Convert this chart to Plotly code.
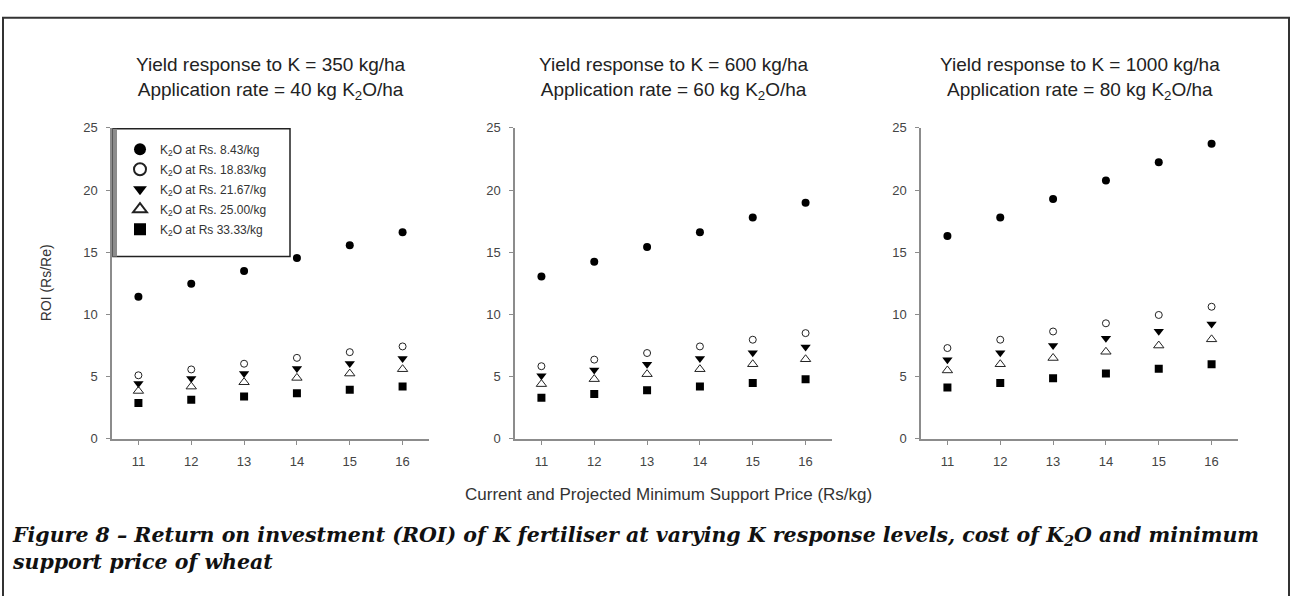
import plotly.graph_objects as go

W, H = 1292, 596

# Minimum support price of wheat (Rs/kg)
price = [11, 12, 13, 14, 15, 16]
price_ticks = [11, 12, 13, 14, 15, 16]
roi_ticks = [0, 5, 10, 15, 20, 25]

# K2O cost levels (legend labels)
cost_labels = [
    "K<sub>2</sub>O at Rs. 8.43/kg",
    "K<sub>2</sub>O at Rs. 18.83/kg",
    "K<sub>2</sub>O at Rs. 21.67/kg",
    "K<sub>2</sub>O at Rs. 25.00/kg",
    "K<sub>2</sub>O at Rs 33.33/kg",
]

# Panel 1: yield response 350 kg/ha, 40 kg K2O/ha
roi_350_843 = [11.42, 12.46, 13.49, 14.53, 15.57, 16.61]
roi_350_1883 = [5.11, 5.58, 6.04, 6.51, 6.97, 7.43]
roi_350_2167 = [4.44, 4.85, 5.25, 5.65, 6.06, 6.46]
roi_350_2500 = [3.85, 4.20, 4.55, 4.90, 5.25, 5.60]
roi_350_3333 = [2.89, 3.15, 3.41, 3.67, 3.94, 4.20]

# Panel 2: yield response 600 kg/ha, 60 kg K2O/ha
roi_600_843 = [13.05, 14.23, 15.42, 16.61, 17.79, 18.98]
roi_600_1883 = [5.84, 6.37, 6.90, 7.43, 7.97, 8.50]
roi_600_2167 = [5.08, 5.54, 6.00, 6.46, 6.92, 7.38]
roi_600_2500 = [4.40, 4.80, 5.20, 5.60, 6.00, 6.40]
roi_600_3333 = [3.30, 3.60, 3.90, 4.20, 4.50, 4.80]

# Panel 3: yield response 1000 kg/ha, 80 kg K2O/ha
roi_1000_843 = [16.31, 17.79, 19.28, 20.76, 22.24, 23.72]
roi_1000_1883 = [7.30, 7.97, 8.63, 9.29, 9.96, 10.62]
roi_1000_2167 = [6.35, 6.92, 7.50, 8.08, 8.65, 9.23]
roi_1000_2500 = [5.50, 6.00, 6.50, 7.00, 7.50, 8.00]
roi_1000_3333 = [4.13, 4.50, 4.88, 5.25, 5.63, 6.00]

panel_titles = [
    "Yield response to K = 350 kg/ha<br>Application rate = 40 kg K<sub>2</sub>O/ha",
    "Yield response to K = 600 kg/ha<br>Application rate = 60 kg K<sub>2</sub>O/ha",
    "Yield response to K = 1000 kg/ha<br>Application rate = 80 kg K<sub>2</sub>O/ha",
]

panels = [
    [roi_350_843, roi_350_1883, roi_350_2167, roi_350_2500, roi_350_3333],
    [roi_600_843, roi_600_1883, roi_600_2167, roi_600_2500, roi_600_3333],
    [roi_1000_843, roi_1000_1883, roi_1000_2167, roi_1000_2500, roi_1000_3333],
]

# marker styles per cost level
styles = [
    dict(symbol="circle", size=8, color="#000000", line=dict(width=0)),
    dict(symbol="circle-open", size=7, color="#222222", line=dict(width=1)),
    dict(symbol="triangle-down", size=9, color="#000000", line=dict(width=0)),
    dict(symbol="triangle-up-open", size=9, color="#222222", line=dict(width=1)),
    dict(symbol="square", size=8, color="#000000", line=dict(width=0)),
]

# plot-area pixel boxes (left, right) and vertical extent
x_boxes = [(112, 429), (515, 832), (921, 1238)]
y_top, y_bot = 124, 443

fig = go.Figure()
for p, series in enumerate(panels):
    xa = "x" if p == 0 else f"x{p + 1}"
    ya = "y" if p == 0 else f"y{p + 1}"
    for s, vals in enumerate(series):
        fig.add_trace(go.Scatter(
            x=price, y=vals, mode="markers",
            marker=styles[s], name=cost_labels[s], legendgroup=f"g{s}",
            showlegend=(p == 0), xaxis=xa, yaxis=ya,
        ))

axis_common = dict(
    showgrid=False, zeroline=False, showline=True, linecolor="#8c8c8c",
    linewidth=1.5, ticks="outside", ticklen=4, tickcolor="#8c8c8c",
    ticklabelstandoff=6,
    tickfont=dict(family="Liberation Sans, Arial", size=13, color="#444444"),
)
for p, (l, r) in enumerate(x_boxes):
    suffix = "" if p == 0 else str(p + 1)
    fig.layout[f"xaxis{suffix}"] = dict(
        domain=[l / W, r / W], range=[10.5, 16.5], tickvals=price_ticks,
        anchor=f"y{suffix}", **axis_common,
    )
    fig.layout[f"yaxis{suffix}"] = dict(
        domain=[(H - y_bot) / H, (H - y_top) / H], range=[0, 25],
        tickvals=roi_ticks, anchor=f"x{suffix}", **axis_common,
    )

annotations = []
for p, (l, r) in enumerate(x_boxes):
    annotations.append(dict(
        text=panel_titles[p], x=(l + r) / 2 / W, y=1 - 46 / H,
        xref="paper", yref="paper", xanchor="center", yanchor="top",
        showarrow=False, align="center",
        font=dict(family="Liberation Sans, Arial", size=19, color="#222222"),
    ))

annotations.append(dict(
    text="ROI (Rs/Re)", x=46 / W, y=(H - (y_top + y_bot) / 2) / H,
    xref="paper", yref="paper", textangle=-90, showarrow=False,
    xanchor="center", yanchor="middle",
    font=dict(family="Liberation Sans, Arial", size=14, color="#333333"),
))
annotations.append(dict(
    text="Current and Projected Minimum Support Price (Rs/kg)",
    x=668 / W, y=1 - 500 / H, xref="paper", yref="paper",
    xanchor="center", yanchor="middle", showarrow=False,
    font=dict(family="Liberation Sans, Arial", size=17, color="#333333"),
))
annotations.append(dict(
    text=("Figure 8 – Return on investment (ROI) of K fertiliser at varying K response "
          "levels, cost of K<sub>2</sub>O and minimum<br>support price of wheat"),
    x=10 / W, y=1 - 527 / H, xref="paper", yref="paper",
    xanchor="left", yanchor="top", align="left", showarrow=False,
    font=dict(family="DejaVu Serif, serif", size=20.5, color="#111111",
              style="italic", weight="bold"),
))

fig.update_layout(
    width=W, height=H, margin=dict(l=0, r=0, t=0, b=0),
    paper_bgcolor="white", plot_bgcolor="white",
    showlegend=True,
    legend=dict(
        x=120 / W, y=1 - 131 / H, xanchor="left", yanchor="top",
        bgcolor="rgba(0,0,0,0)", borderwidth=0,
        font=dict(family="Liberation Sans, Arial", size=12, color="#333333"),
        tracegroupgap=1, itemsizing="constant",
    ),
    annotations=annotations,
    shapes=[
        dict(type="rect", xref="paper", yref="paper",
             x0=3 / W, x1=1289 / W, y0=-0.05, y1=1 - 11 / H,
             line=dict(color="#333333", width=2), fillcolor="rgba(0,0,0,0)"),
        # legend frame
        dict(type="rect", xref="paper", yref="paper",
             x0=113 / W, x1=290 / W, y0=1 - 256 / H, y1=1 - 125 / H,
             line=dict(color="#222222", width=1.5), fillcolor="white",
             layer="below"),
        dict(type="line", xref="paper", yref="paper",
             x0=115 / W, x1=115 / W, y0=1 - 256 / H, y1=1 - 125 / H,
             line=dict(color="#8c8c8c", width=4)),
    ],
)

fig.write_html("out.html")
